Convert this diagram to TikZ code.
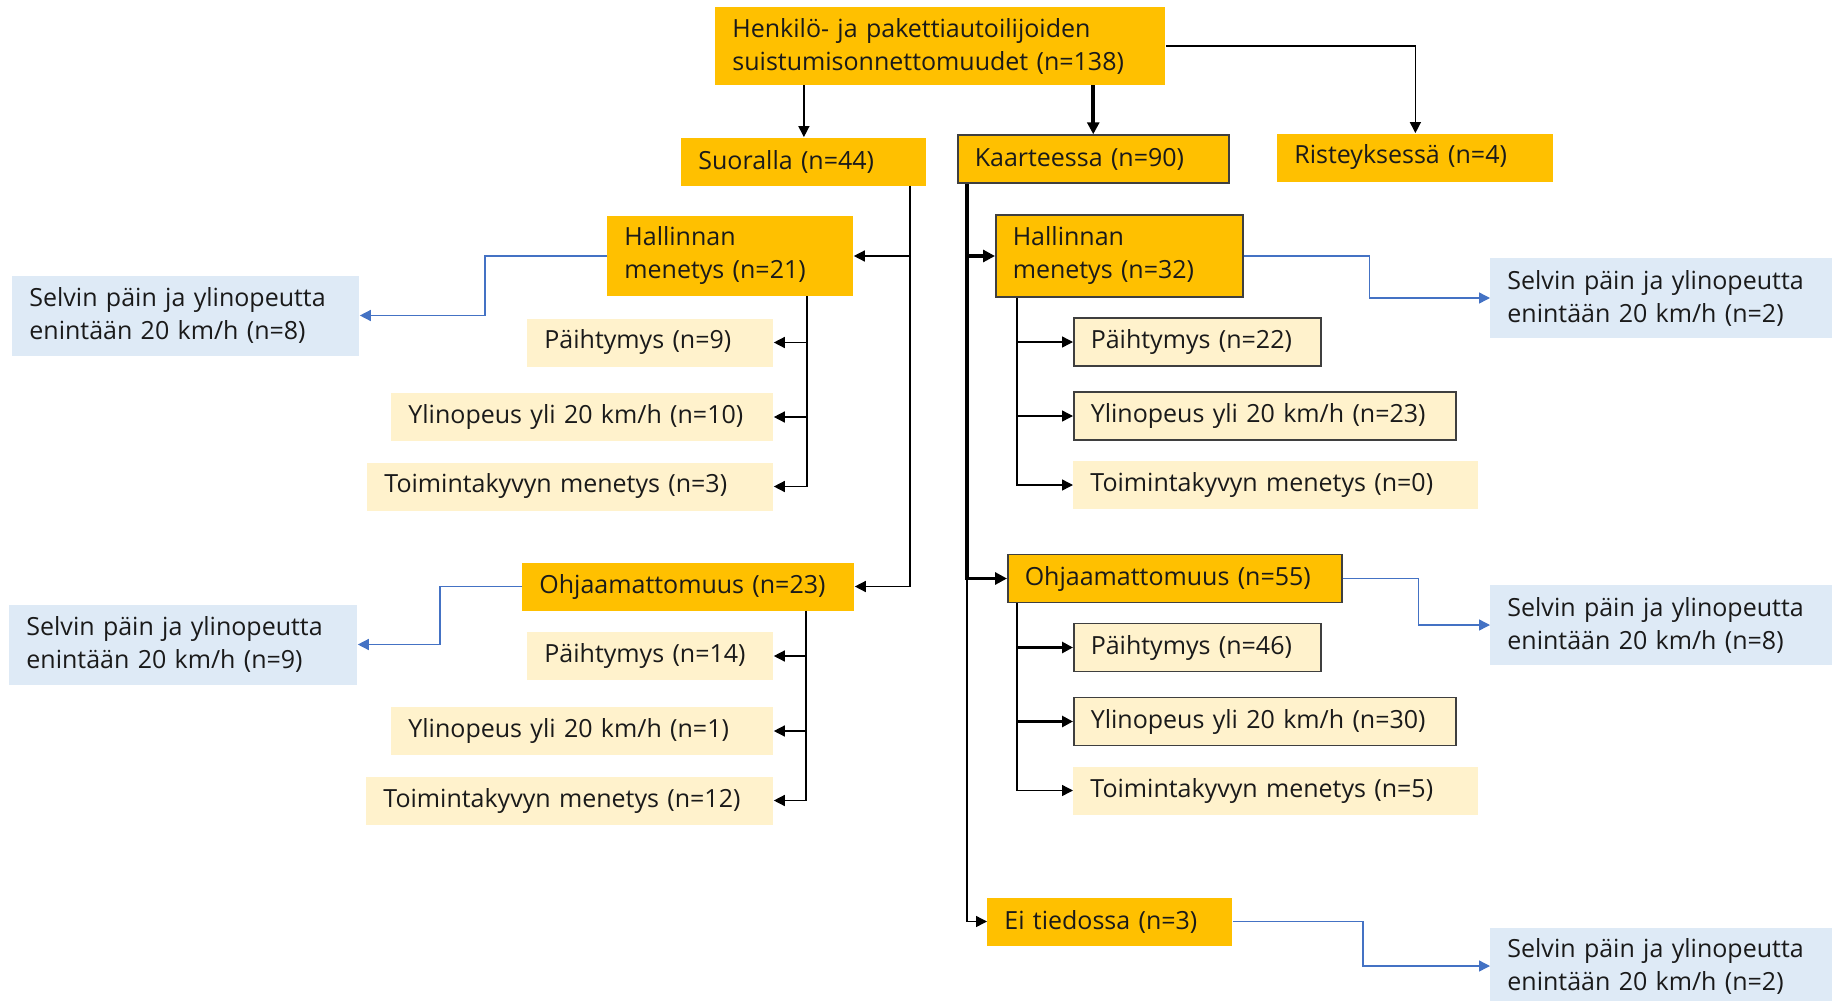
\documentclass[tikz,border=0pt]{standalone}
\usepackage{fontspec}
\setmainfont{Open Sans}
\usetikzlibrary{arrows.meta,positioning,calc}
\definecolor{Amber}{HTML}{FFC000}
\definecolor{LightAmber}{HTML}{FFF2CC}
\definecolor{PaleBlue}{HTML}{DEEAF6}
\definecolor{ArrowBlue}{HTML}{4472C4}
\definecolor{Frame}{HTML}{3F3F3F}
\definecolor{Ink}{HTML}{1A1A1A}

\begin{document}
\begin{tikzpicture}[
        x=0.5pt, y=-0.5pt,
        font=\fontsize{12.5}{16.5}\selectfont, text=Ink,
        main/.style={fill=Amber, anchor=west, align=left, inner xsep=8.5pt,
          inner ysep=0pt, minimum height=24pt},
        sub/.style={main, fill=LightAmber},
        note/.style={main, fill=PaleBlue, minimum height=40pt},
        frame/.style={draw=Frame, line width=0.75pt},
        arr/.style={-{Triangle[length=5.5pt, width=5.5pt]}, line width=0.7pt},
        heavy/.style={line width=1.8pt, -{Triangle[length=6pt, width=6pt]}},
        barr/.style={-{Triangle[length=5.5pt, width=5.5pt]}, draw=ArrowBlue, line width=0.7pt}
      ]
        \useasboundingbox (0,0) rectangle (1832,1001);
        % top level
        \node[main, text width=208pt, minimum height=39pt] (root) at (715,46)
          {Henkilö- ja pakettiautoilijoiden\\suistumisonnettomuudet (n=138)};
        \node[main, text width=105.5pt] (suor) at (681,161.5) {Suoralla (n=44)};
        \node[main, frame, text width=118.5pt] (kaar) at (957,159) {Kaarteessa (n=90)};
        \node[main, text width=121pt] (rist) at (1277,157.5) {Risteyksessä (n=4)};
        % straight road
        \node[main, text width=106pt, minimum height=40pt] (hal1) at (607,256) {Hallinnan\\menetys (n=21)};
        \node[note, text width=156.5pt] (bl1) at (12,315.5) {Selvin päin ja ylinopeutta\\enintään 20 km/h (n=8)};
        \node[sub, text width=106pt] (p9) at (527,342.5) {Päihtymys (n=9)};
        \node[sub, text width=174pt] (y10) at (391,417) {Ylinopeus yli 20 km/h (n=10)};
        \node[sub, text width=186pt] (t3) at (367,486.5) {Toimintakyvyn menetys (n=3)};
        \node[main, text width=149pt] (ohj1) at (522,586.5) {Ohjaamattomuus (n=23)};
        \node[note, text width=157pt] (bl2) at (9,644.5) {Selvin päin ja ylinopeutta\\enintään 20 km/h (n=9)};
        \node[sub, text width=106pt] (p14) at (527,656) {Päihtymys (n=14)};
        \node[sub, text width=174pt] (y1) at (391,731) {Ylinopeus yli 20 km/h (n=1)};
        \node[sub, text width=186.5pt] (t12) at (366,800.5) {Toimintakyvyn menetys (n=12)};
        % curve
        \node[main, frame, text width=106.5pt, minimum height=41pt] (hal2) at (995,256) {Hallinnan\\menetys (n=32)};
        \node[note, text width=154pt] (br1) at (1490,298) {Selvin päin ja ylinopeutta\\enintään 20 km/h (n=2)};
        \node[sub, frame, text width=106.5pt] (p22) at (1073,342) {Päihtymys (n=22)};
        \node[sub, frame, text width=174pt] (y23) at (1073,416) {Ylinopeus yli 20 km/h (n=23)};
        \node[sub, text width=185.5pt] (t0) at (1073,485) {Toimintakyvyn menetys (n=0)};
        \node[main, frame, text width=150pt] (ohj2) at (1007,578.5) {Ohjaamattomuus (n=55)};
        \node[note, text width=154pt] (br2) at (1490,625) {Selvin päin ja ylinopeutta\\enintään 20 km/h (n=8)};
        \node[sub, frame, text width=106.5pt] (p46) at (1073,647.5) {Päihtymys (n=46)};
        \node[sub, frame, text width=174pt] (y30) at (1073,721.5) {Ylinopeus yli 20 km/h (n=30)};
        \node[sub, text width=185.5pt] (t5) at (1073,790.5) {Toimintakyvyn menetys (n=5)};
        \node[main, text width=105.5pt] (ei) at (987,921.5) {Ei tiedossa (n=3)};
        \node[note, text width=154pt, minimum height=38pt] (br3) at (1490,966) {Selvin päin ja ylinopeutta\\enintään 20 km/h (n=2)};
        % connectors from the top
        \draw[arr] (suor.north |- root.south) -- (suor.north);
        \draw[heavy] (kaar.north |- root.south) -- (kaar.north);
        \draw[arr] (root.east) -| (rist.north);
        % straight road
        \draw[arr] ([xshift=-8.5pt]suor.south east) |- (hal1.east);
        \draw[arr] ([xshift=-8.5pt]suor.south east) |- (ohj1.east);
        \draw[arr] ([xshift=-23.5pt]hal1.south east) |- (p9.east);
        \draw[arr] ([xshift=-23.5pt]hal1.south east) |- (y10.east);
        \draw[arr] ([xshift=-23.5pt]hal1.south east) |- (t3.east);
        \draw[arr] ([xshift=-24.5pt]ohj1.south east) |- (p14.east);
        \draw[arr] ([xshift=-24.5pt]ohj1.south east) |- (y1.east);
        \draw[arr] ([xshift=-24.5pt]ohj1.south east) |- (t12.east);
        \draw[barr] (hal1.west) -- ++(-122,0) |- (bl1.east);
        \draw[barr] (ohj1.west) -- ++(-82,0) |- (bl2.east);
        % curve
        \draw[arr] ([xshift=5pt]kaar.south west) |- (ei.west);
        \draw[heavy] ([xshift=5pt]kaar.south west) |- (hal2.west);
        \draw[heavy] ([xshift=5pt]kaar.south west) |- (ohj2.west);
        \draw[arr] ([xshift=11pt]hal2.south west) |- (p22.west);
        \draw[arr] ([xshift=11pt]hal2.south west) |- (y23.west);
        \draw[arr] ([xshift=11pt]hal2.south west) |- (t0.west);
        \draw[arr] ([xshift=5pt]ohj2.south west) |- (t5.west);
        \draw[arr, line width=1.4pt] ([xshift=5pt]ohj2.south west) |- (p46.west);
        \draw[arr, line width=1.4pt] ([xshift=5pt]ohj2.south west) |- (y30.west);
        \draw[barr] (hal2.east) -- ++(126,0) |- (br1.west);
        \draw[barr] (ohj2.east) -- ++(76,0) |- (br2.west);
        \draw[barr] (ei.east) -- ++(130,0) |- (br3.west);
      \end{tikzpicture}
\end{document}
